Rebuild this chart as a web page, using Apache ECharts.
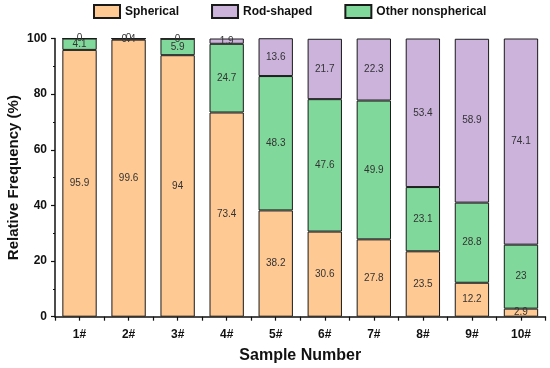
<!DOCTYPE html>
<html><head><meta charset="utf-8">
<script src="https://cdn.jsdelivr.net/npm/echarts@6/dist/echarts.min.js"></script>
<style>html,body{margin:0;padding:0;background:#fff}#c{width:550px;height:368px}</style>
</head><body><div id="c"></div>
<script>
const categories = ['1#','2#','3#','4#','5#','6#','7#','8#','9#','10#'];
const spherical = [95.9, 99.6, 94, 73.4, 38.2, 30.6, 27.8, 23.5, 12.2, 2.9];
const otherNonspherical = [4.1, 0.4, 5.9, 24.7, 48.3, 47.6, 49.9, 23.1, 28.8, 23];
const rodShaped = [0, 0, 0, 1.9, 13.6, 21.7, 22.3, 53.4, 58.9, 74.1];
const yTicks = [0, 20, 40, 60, 80, 100];

const font = 'Liberation Sans, Arial, sans-serif';
const chart = echarts.init(document.getElementById('c'), null, {renderer: 'canvas'});
function mk(name, data, color) {
  return {
    name, type: 'bar', stack: 'total', data, barWidth: '70%',
    itemStyle: {color, borderColor: '#1a1a1a', borderWidth: 1},
    label: {show: true, position: 'inside', color: '#333', fontSize: 10, fontFamily: font},
    emphasis: {disabled: true}
  };
}
chart.setOption({
  animation: false,
  backgroundColor: '#fff',
  legend: {
    data: ['Spherical', 'Rod-shaped', 'Other nonspherical'],
    icon: 'rect',
    left: 88, top: -1, itemWidth: 26, itemHeight: 13, itemGap: 32,
    textStyle: {fontFamily: font, fontWeight: 'bold', fontSize: 12, color: '#111'}
  },
  grid: {left: 55, right: 4.5, top: 38.5, bottom: 51.3, containLabel: false, outerBoundsMode: 'none'},
  xAxis: [{
    type: 'category', data: categories,
    axisLine: {lineStyle: {color: '#111', width: 1.5}},
    axisTick: {show: false},
    axisLabel: {fontFamily: font, fontWeight: 'bold', fontSize: 12, color: '#111', margin: 12},
    name: 'Sample Number', nameLocation: 'middle', nameGap: 31, nameMoveOverlap: false,
    nameTextStyle: {fontFamily: font, fontWeight: 'bold', fontSize: 16, color: '#111'}
  }, {
    type: 'value', min: 0, max: 10, interval: 0.5, position: 'bottom',
    axisLine: {show: false}, axisLabel: {show: false}, splitLine: {show: false},
    axisTick: {show: true, inside: false, length: 4, lineStyle: {color: '#111', width: 1.2}}
  }],
  yAxis: {
    type: 'value', min: yTicks[0], max: yTicks[yTicks.length - 1], interval: 20,
    axisLine: {show: true, lineStyle: {color: '#111', width: 1.5}},
    axisTick: {show: true, length: 4, lineStyle: {color: '#111', width: 1.2}},
    minorTick: {show: true, splitNumber: 2, length: 2, lineStyle: {color: '#111', width: 1}},
    splitLine: {show: false},
    axisLabel: {fontFamily: font, fontWeight: 'bold', fontSize: 12, color: '#111', margin: 8},
    name: 'Relative Frequency (%)', nameLocation: 'middle', nameGap: 34, nameMoveOverlap: false,
    nameTextStyle: {fontFamily: font, fontWeight: 'bold', fontSize: 15, color: '#111'}
  },
  series: [
    mk('Spherical', spherical, '#FFC993'),
    mk('Other nonspherical', otherNonspherical, '#80D99B'),
    mk('Rod-shaped', rodShaped, '#CBB3DC')
  ]
});
</script></body></html>
